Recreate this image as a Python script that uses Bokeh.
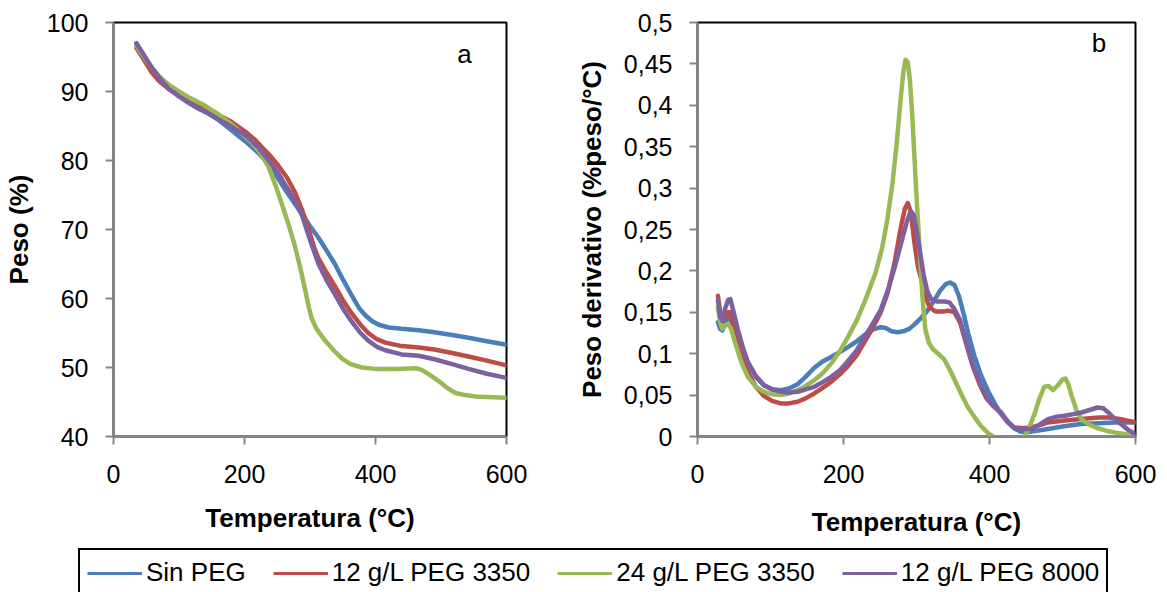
from bokeh.plotting import figure
from bokeh.layouts import row, column
from bokeh.models import Range1d, FixedTicker, Legend, LegendItem, Label
from bokeh.embed import file_html
from bokeh.resources import INLINE

# ---------------- data ----------------
series_names = ["Sin PEG", "12 g/L PEG 3350", "24 g/L PEG 3350", "12 g/L PEG 8000"]
series_colors = ["#4A7EBB", "#BE4B48", "#98B954", "#7D60A0"]

# (a) TGA: weight (%) vs temperature
tga_sin_T = [35, 45, 58, 70, 84, 100, 114, 130, 145, 160, 180, 201, 220, 237, 250, 262, 275, 288, 300, 313, 325, 338, 350, 364, 375, 384, 395, 405, 420, 440, 466, 490, 517, 542, 570, 600]
tga_sin_w = [96.9, 95.4, 93.5, 92.0, 90.6, 89.4, 88.5, 87.6, 86.8, 85.9, 84.4, 82.8, 81.2, 79.5, 77.6, 75.8, 74.0, 72.2, 70.5, 68.8, 67.0, 65.0, 62.8, 60.4, 58.6, 57.6, 56.7, 56.2, 55.8, 55.6, 55.4, 55.1, 54.7, 54.3, 53.8, 53.3]

tga_p3350_T = [35, 45, 58, 70, 84, 100, 114, 130, 145, 160, 180, 201, 215, 226, 240, 252, 265, 277, 288, 298, 306, 313, 325, 338, 350, 364, 377, 389, 402, 415, 440, 466, 490, 517, 542, 570, 600]
tga_p3350_w = [96.3, 94.8, 92.8, 91.5, 90.4, 89.4, 88.6, 87.8, 87.2, 86.6, 85.6, 84.2, 83.1, 82.0, 80.6, 79.2, 77.5, 75.4, 72.8, 70.0, 67.5, 65.8, 63.8, 61.8, 59.8, 57.8, 56.2, 55.0, 54.1, 53.6, 53.1, 52.9, 52.6, 52.1, 51.6, 51.0, 50.3]

tga_p3350x2_T = [35, 45, 58, 70, 84, 100, 114, 135, 160, 186, 211, 225, 237, 247, 257, 267, 277, 285, 293, 298, 303, 310, 323, 336, 349, 362, 379, 400, 430, 461, 470, 480, 497, 510, 522, 537, 553, 580, 600]
tga_p3350x2_w = [96.6, 95.2, 93.5, 92.2, 91.0, 90.0, 89.2, 88.2, 86.7, 84.8, 82.6, 81.0, 79.0, 76.5, 73.7, 70.8, 67.6, 64.5, 61.1, 58.8, 57.0, 55.6, 53.9, 52.5, 51.3, 50.5, 50.0, 49.8, 49.8, 49.9, 49.7, 49.1, 48.0, 47.0, 46.3, 46.0, 45.8, 45.7, 45.6]

tga_p8000_T = [35, 45, 58, 70, 84, 100, 114, 130, 145, 160, 180, 201, 220, 237, 250, 262, 275, 288, 300, 313, 325, 338, 350, 364, 377, 389, 402, 415, 440, 466, 490, 517, 542, 570, 600]
tga_p8000_w = [97.0, 95.5, 93.5, 92.0, 90.4, 89.3, 88.4, 87.5, 86.8, 86.0, 84.9, 83.7, 82.0, 80.0, 78.4, 76.5, 74.5, 72.0, 68.5, 65.0, 62.7, 60.6, 58.6, 56.6, 55.0, 53.9, 53.0, 52.5, 51.9, 51.7, 51.2, 50.5, 49.8, 49.1, 48.5]

# (b) DTG: derivative weight (%/°C) vs temperature
dtg_sin_T = [28, 31, 34, 38, 42, 46, 52, 60, 69, 80, 91, 102, 114, 125, 137, 148, 160, 172, 183, 195, 206, 218, 228, 240, 251, 258, 266, 274, 282, 290, 298, 306, 315, 324, 333, 340, 346, 352, 358, 364, 371, 379, 388, 398, 407, 416, 425, 434, 442, 450, 465, 480, 500, 525, 550, 571, 600]
dtg_sin_d = [0.138, 0.130, 0.128, 0.138, 0.145, 0.140, 0.125, 0.106, 0.088, 0.072, 0.062, 0.057, 0.056, 0.058, 0.063, 0.072, 0.083, 0.091, 0.096, 0.102, 0.108, 0.115, 0.122, 0.129, 0.132, 0.131, 0.127, 0.126, 0.127, 0.130, 0.136, 0.143, 0.152, 0.164, 0.177, 0.184, 0.186, 0.183, 0.170, 0.150, 0.124, 0.098, 0.075, 0.055, 0.040, 0.027, 0.017, 0.010, 0.006, 0.005, 0.007, 0.009, 0.012, 0.015, 0.016, 0.017, 0.017]

dtg_p3350_T = [28, 31, 34, 38, 42, 45, 50, 58, 69, 80, 91, 102, 114, 125, 137, 148, 160, 172, 183, 195, 206, 218, 228, 240, 251, 260, 270, 278, 284, 288, 292, 297, 302, 307, 312, 318, 326, 335, 344, 352, 360, 368, 377, 387, 396, 406, 416, 425, 434, 445, 457, 470, 480, 500, 525, 550, 565, 580, 600]
dtg_p3350_d = [0.170, 0.150, 0.140, 0.143, 0.150, 0.150, 0.130, 0.105, 0.078, 0.060, 0.049, 0.043, 0.040, 0.040, 0.042, 0.046, 0.052, 0.059, 0.066, 0.075, 0.085, 0.098, 0.113, 0.131, 0.150, 0.172, 0.210, 0.250, 0.275, 0.282, 0.272, 0.235, 0.205, 0.188, 0.170, 0.156, 0.151, 0.151, 0.152, 0.150, 0.137, 0.112, 0.085, 0.062, 0.046, 0.036, 0.028, 0.018, 0.011, 0.010, 0.011, 0.014, 0.017, 0.019, 0.021, 0.023, 0.023, 0.021, 0.017]

dtg_p3350x2_T = [28, 31, 34, 38, 42, 46, 52, 60, 69, 80, 91, 102, 114, 125, 137, 148, 160, 172, 183, 195, 206, 218, 230, 244, 253, 260, 267, 273, 278, 282, 285, 288, 291, 294, 297, 300, 304, 308, 312, 317, 323, 331, 338, 346, 354, 362, 370, 379, 388, 398, 407, 420, 435, 448, 455, 462, 468, 475, 481, 487, 494, 500, 504, 508, 513, 519, 526, 535, 548, 560, 571, 585, 600]
dtg_p3350x2_d = [0.156, 0.138, 0.130, 0.134, 0.136, 0.130, 0.112, 0.090, 0.072, 0.060, 0.054, 0.051, 0.050, 0.052, 0.056, 0.061, 0.068, 0.077, 0.088, 0.103, 0.120, 0.140, 0.165, 0.198, 0.228, 0.262, 0.305, 0.355, 0.405, 0.440, 0.455, 0.452, 0.430, 0.390, 0.340, 0.290, 0.231, 0.170, 0.130, 0.113, 0.105, 0.099, 0.093, 0.080, 0.065, 0.050, 0.036, 0.024, 0.013, 0.004, -0.001, -0.008, -0.008, -0.001, 0.012, 0.028, 0.045, 0.060, 0.061, 0.056, 0.062, 0.069, 0.070, 0.063, 0.048, 0.032, 0.021, 0.015, 0.010, 0.007, 0.005, 0.003, 0.001]

dtg_p8000_T = [28, 31, 34, 38, 42, 45, 49, 55, 62, 69, 80, 91, 102, 114, 125, 137, 148, 160, 172, 183, 195, 206, 218, 228, 240, 251, 262, 271, 280, 287, 292, 296, 300, 305, 310, 315, 320, 328, 338, 345, 352, 360, 368, 377, 387, 396, 406, 416, 425, 434, 445, 457, 468, 480, 492, 503, 515, 526, 537, 548, 556, 564, 571, 580, 590, 600]
dtg_p8000_d = [0.165, 0.145, 0.140, 0.155, 0.165, 0.166, 0.152, 0.130, 0.108, 0.090, 0.073, 0.062, 0.057, 0.054, 0.053, 0.054, 0.057, 0.060, 0.066, 0.072, 0.080, 0.091, 0.104, 0.119, 0.136, 0.153, 0.180, 0.207, 0.237, 0.260, 0.272, 0.268, 0.250, 0.222, 0.194, 0.175, 0.166, 0.163, 0.163, 0.162, 0.154, 0.140, 0.114, 0.087, 0.064, 0.047, 0.037, 0.029, 0.018, 0.010, 0.009, 0.009, 0.014, 0.021, 0.024, 0.025, 0.027, 0.029, 0.032, 0.035, 0.034, 0.028, 0.022, 0.015, 0.008, 0.003]

x_ticks = [0, 200, 400, 600]
tga_ticks = [40, 50, 60, 70, 80, 90, 100]
dtg_ticks = [0, 0.05, 0.1, 0.15, 0.2, 0.25, 0.3, 0.35, 0.4, 0.45, 0.5]
dtg_tick_labels = ["0", "0,05", "0,1", "0,15", "0,2", "0,25", "0,3", "0,35", "0,4", "0,45", "0,5"]

x_title = "Temperatura (°C)"
tga_title = "Peso (%)"
dtg_title = "Peso derivativo (%peso/°C)"

# ---------------- style ----------------
FONT = "Liberation Sans"
AXIS_GRAY = "#868686"


def style(p):
    p.xgrid.visible = False
    p.ygrid.visible = False
    p.outline_line_color = "black"
    p.outline_line_width = 2
    p.background_fill_color = "white"
    p.border_fill_color = "white"
    for ax in (p.xaxis[0], p.yaxis[0]):
        ax.axis_line_color = AXIS_GRAY
        ax.axis_line_width = 2
        ax.major_tick_line_color = AXIS_GRAY
        ax.major_tick_line_width = 2
        ax.major_tick_out = 8
        ax.major_tick_in = 0
        ax.minor_tick_line_color = None
        ax.major_label_text_font = FONT
        ax.major_label_text_font_size = "25px"
        ax.major_label_text_color = "black"
        ax.major_label_standoff = 17
        ax.axis_label_text_font = FONT
        ax.axis_label_text_font_size = "26px"
        ax.axis_label_text_font_style = "bold"
        ax.axis_label_text_color = "black"
    p.xaxis[0].major_label_standoff = 20
    p.yaxis[0].axis_label_standoff = 10


# ---------------- panel a ----------------
p1 = figure(output_backend="svg", toolbar_location=None,
            frame_width=393, frame_height=414,
            min_border_left=112, min_border_right=40, min_border_top=22, min_border_bottom=104,
            x_range=Range1d(0, 600), y_range=Range1d(40, 100))
style(p1)
p1.xaxis[0].ticker = FixedTicker(ticks=x_ticks)
p1.yaxis[0].ticker = FixedTicker(ticks=tga_ticks)
p1.xaxis[0].axis_label = x_title
p1.yaxis[0].axis_label = tga_title
p1.xaxis[0].axis_label_standoff = 17

tga = [(tga_sin_T, tga_sin_w), (tga_p3350_T, tga_p3350_w),
       (tga_p3350x2_T, tga_p3350x2_w), (tga_p8000_T, tga_p8000_w)]
for (T, w), c in zip(tga, series_colors):
    p1.line(T, w, line_color=c, line_width=4.5, line_join="round", line_cap="round")
p1.add_layout(Label(x=536, y=95.5, text="a", text_font=FONT, text_font_size="26px",
                    text_align="center", text_baseline="middle", text_color="black"))

# ---------------- panel b ----------------
p2 = figure(output_backend="svg", toolbar_location=None,
            frame_width=438, frame_height=414,
            min_border_left=151, min_border_right=24, min_border_top=19, min_border_bottom=107,
            x_range=Range1d(0, 600), y_range=Range1d(0, 0.5))
style(p2)
p2.xaxis[0].ticker = FixedTicker(ticks=x_ticks)
p2.yaxis[0].ticker = FixedTicker(ticks=dtg_ticks)
p2.yaxis[0].major_label_overrides = {t: s for t, s in zip(dtg_ticks, dtg_tick_labels)}
p2.xaxis[0].axis_label = x_title
p2.yaxis[0].axis_label = dtg_title
p2.yaxis[0].axis_label_standoff = 14
p2.xaxis[0].axis_label_standoff = 21

dtg = [(dtg_sin_T, dtg_sin_d), (dtg_p3350_T, dtg_p3350_d),
       (dtg_p3350x2_T, dtg_p3350x2_d), (dtg_p8000_T, dtg_p8000_d)]
for (T, d), c in zip(dtg, series_colors):
    p2.line(T, d, line_color=c, line_width=4.5, line_join="round", line_cap="round")
p2.add_layout(Label(x=550, y=0.475, text="b", text_font=FONT, text_font_size="26px",
                    text_align="center", text_baseline="middle", text_color="black"))

# ---------------- legend strip ----------------
p3 = figure(output_backend="svg", toolbar_location=None, width=1150, height=52,
            min_border=0, x_range=Range1d(0, 1), y_range=Range1d(0, 1))
p3.axis.visible = False
p3.grid.visible = False
p3.outline_line_color = None
items = []
for name, c in zip(series_names, series_colors):
    # off-screen proxy line so the legend swatch is drawn
    r = p3.line([-10, -9], [-10, -9], line_color=c, line_width=3)
    items.append(LegendItem(label=name, renderers=[r]))
leg = Legend(items=items, orientation="horizontal", location=(78, -5),
             label_text_font=FONT, label_text_font_size="26px", label_text_color="black",
             glyph_width=55, glyph_height=20, label_standoff=4, spacing=27,
             padding=7, margin=0, border_line_color="black", border_line_width=2,
             border_line_alpha=1.0,
             background_fill_color="white", background_fill_alpha=1.0)
p3.add_layout(leg, "center")

layout = column(row(p1, p2), p3)
with open("out.html", "w") as f:
    f.write(file_html(layout, INLINE))
